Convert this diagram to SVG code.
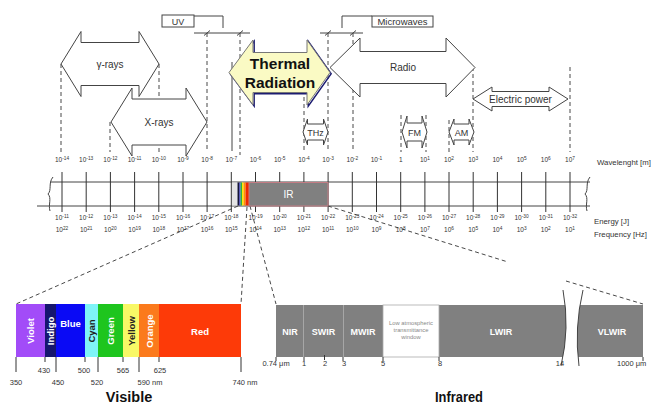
<svg xmlns="http://www.w3.org/2000/svg" width="654" height="405" viewBox="0 0 654 405">
<style>
text{font-family:"Liberation Sans",Arial,sans-serif;fill:#333}
.arr{fill:#fff;stroke:#444;stroke-width:1}
.dash{stroke:#333;stroke-width:0.9;stroke-dasharray:4 3;fill:none}
.ln{stroke:#444;stroke-width:1;fill:none}
.tk{stroke:#333;stroke-width:1}
.lab{font-size:6.5px;text-anchor:middle}
.s{font-size:4.8px}
.t10{font-size:10px;text-anchor:middle}
.box{fill:#fff;stroke:#444;stroke-width:1}
.vt{font-size:9.5px;font-weight:bold;text-anchor:middle;fill:#fff}
.dk{fill:#222}
.ir{font-size:9px;font-weight:bold;text-anchor:middle;fill:#fff}
.nm{font-size:7.5px;text-anchor:middle}
.seg{stroke:#b0b0b0;stroke-width:0.8}
</style>
<rect width="654" height="405" fill="#fff"/>

<g id="connectors">
  <path class="dash" d="M61,64V152 M110,122V152 M159,64V152 M207,33V152 M240,33V155 M304,97V152 M328,33V152 M353,33V152 M401,115V152 M426,115V152 M449,120V152 M473,67V152 M570,67V152"/>
  <path class="ln" d="M232,62V151"/>
  <path class="dash" d="M238,206L16,304 M247,207L241,304 M250,206L276,304 M328,206L508,262 M566,281L643,304"/>
</g>

<g id="uv">
  <rect class="box" x="162" y="15" width="32" height="12"/>
  <text class="t10" x="178" y="24.5" style="font-size:9px">UV</text>
  <path class="ln" d="M194,16H223V28 M194,33H250 M204,35.5L210,30.5 M237,35.5L243,30.5"/>
</g>

<g id="microwaves">
  <rect class="box" x="372" y="16" width="61" height="11"/>
  <text class="t10" x="402.5" y="24.8" style="font-size:9.5px">Microwaves</text>
  <path class="ln" d="M372,16H342V28 M320,33H363 M325,35.5L331,30.5 M350,35.5L356,30.5"/>
</g>

<g id="gamma-rays">
  <path class="arr" d="M61,64L81,31.5V42.5H139V31.5L159,64L139,96.5V85.5H81V96.5Z"/>
  <text class="t10" x="110" y="67.5">γ-rays</text>
</g>
<g id="x-rays">
  <path class="arr" d="M111,122L132,88V99H186V88L207,122L186,156V145H132V156Z"/>
  <text class="t10" x="159" y="125.5">X-rays</text>
</g>
<g id="thermal">
  <path d="M229,72.5L253,40V52.5H307V40L330,72.5L307,105V92.5H253V105Z" fill="none" stroke="#1c1c70" stroke-width="1.4" transform="translate(1.2,1.2)"/>
  <path d="M229,72.5L253,40V52.5H307V40L330,72.5L307,105V92.5H253V105Z" fill="#fafac4" stroke="#777" stroke-width="1"/>
  <text x="280" y="69" text-anchor="middle" style="font-size:15.5px;font-weight:bold;fill:#111">Thermal</text>
  <text x="280" y="88" text-anchor="middle" style="font-size:15.5px;font-weight:bold;fill:#111">Radiation</text>
</g>
<g id="radio">
  <path class="arr" d="M330,67.5L360,38V51.5H446V38L475,67.5L446,97V83.5H360V97Z"/>
  <text class="t10" x="403" y="71">Radio</text>
</g>
<g id="electric-power">
  <path class="arr" d="M473,99L492,87V91.5H549V87L568,99L549,111V106.5H492V111Z"/>
  <text class="t10" x="520.5" y="102.5">Electric power</text>
</g>
<g id="thz">
  <path class="arr" d="M303,132L307.5,119V124H323.5V119L328,132L323.5,145V140H307.5V145Z"/>
  <text class="t10" x="315.5" y="135.5" style="font-size:9px">THz</text>
</g>
<g id="fm">
  <path class="arr" d="M402,132L407,116V123H422V116L427,132L422,148V141H407V148Z"/>
  <text class="t10" x="414.5" y="135.5" style="font-size:9px">FM</text>
</g>
<g id="am">
  <path class="arr" d="M449,132L454,119V124H469V119L474,132L469,145V140H454V145Z"/>
  <text class="t10" x="461.5" y="135.5" style="font-size:9px">AM</text>
</g>

<g id="spectrum-bar">
  <path class="ln" d="M50,182H590 M37,206H590"/>
  <path class="ln" d="M53,177C48,183 52,190 48,194C52,198 48,205 50,211"/>
  <path class="ln" d="M590,177C585,183 589,190 585,194C589,198 585,205 587,211"/>
  <path class="tk" d="M62,172V212 M86.2,172V212 M110.4,172V212 M134.6,172V212 M158.8,172V212 M183,172V212 M207.1,172V212 M231.3,172V212 M255.5,172V212 M279.7,172V212 M303.9,172V212 M328.1,172V212 M352.3,172V212 M376.5,172V212 M400.7,172V212 M424.9,172V212 M449,172V212 M473.2,172V212 M497.4,172V212 M521.6,172V212 M545.8,172V212 M570,172V212"/>
  <rect x="232" y="182.5" width="5.5" height="23" fill="#e4e4e4"/>
  <rect x="237.5" y="182.5" width="2" height="23" fill="#141438"/>
  <rect x="239.5" y="182.5" width="1" height="23" fill="#2a2ad0"/>
  <rect x="240.5" y="182.5" width="1.5" height="23" fill="#2fae3a"/>
  <rect x="242" y="182.5" width="1.5" height="23" fill="#ffe600"/>
  <rect x="243.5" y="182.5" width="2" height="23" fill="#ff9400"/>
  <rect x="245.5" y="182.5" width="3.5" height="23" fill="#ee2a00"/>
  <rect x="249" y="182.5" width="79" height="23.5" fill="#808080" stroke="#c47c84" stroke-width="1"/>
  <text x="288.5" y="197.5" text-anchor="middle" style="font-size:10px;fill:#fff">IR</text>
</g>

<g id="wavelength-labels">
  <text class="lab" x="62" y="162">10<tspan class="s" dy="-2.5">-14</tspan></text>
  <text class="lab" x="86.2" y="162">10<tspan class="s" dy="-2.5">-13</tspan></text>
  <text class="lab" x="110.4" y="162">10<tspan class="s" dy="-2.5">-12</tspan></text>
  <text class="lab" x="134.6" y="162">10<tspan class="s" dy="-2.5">-11</tspan></text>
  <text class="lab" x="158.8" y="162">10<tspan class="s" dy="-2.5">-10</tspan></text>
  <text class="lab" x="183" y="162">10<tspan class="s" dy="-2.5">-9</tspan></text>
  <text class="lab" x="207.1" y="162">10<tspan class="s" dy="-2.5">-8</tspan></text>
  <text class="lab" x="231.3" y="162">10<tspan class="s" dy="-2.5">-7</tspan></text>
  <text class="lab" x="255.5" y="162">10<tspan class="s" dy="-2.5">-6</tspan></text>
  <text class="lab" x="279.7" y="162">10<tspan class="s" dy="-2.5">-5</tspan></text>
  <text class="lab" x="303.9" y="162">10<tspan class="s" dy="-2.5">-4</tspan></text>
  <text class="lab" x="328.1" y="162">10<tspan class="s" dy="-2.5">-3</tspan></text>
  <text class="lab" x="352.3" y="162">10<tspan class="s" dy="-2.5">-2</tspan></text>
  <text class="lab" x="376.5" y="162">10<tspan class="s" dy="-2.5">-1</tspan></text>
  <text class="lab" x="400.7" y="162">1</text>
  <text class="lab" x="424.9" y="162">10<tspan class="s" dy="-2.5">1</tspan></text>
  <text class="lab" x="449" y="162">10<tspan class="s" dy="-2.5">2</tspan></text>
  <text class="lab" x="473.2" y="162">10<tspan class="s" dy="-2.5">3</tspan></text>
  <text class="lab" x="497.4" y="162">10<tspan class="s" dy="-2.5">4</tspan></text>
  <text class="lab" x="521.6" y="162">10<tspan class="s" dy="-2.5">5</tspan></text>
  <text class="lab" x="545.8" y="162">10<tspan class="s" dy="-2.5">6</tspan></text>
  <text class="lab" x="570" y="162">10<tspan class="s" dy="-2.5">7</tspan></text>
  <text x="597" y="165" style="font-size:7.8px">Wavelenght [m]</text>
</g>

<g id="energy-labels">
  <text class="lab" x="62" y="220">10<tspan class="s" dy="-2.5">-11</tspan></text>
  <text class="lab" x="86.2" y="220">10<tspan class="s" dy="-2.5">-12</tspan></text>
  <text class="lab" x="110.4" y="220">10<tspan class="s" dy="-2.5">-13</tspan></text>
  <text class="lab" x="134.6" y="220">10<tspan class="s" dy="-2.5">-14</tspan></text>
  <text class="lab" x="158.8" y="220">10<tspan class="s" dy="-2.5">-15</tspan></text>
  <text class="lab" x="183" y="220">10<tspan class="s" dy="-2.5">-16</tspan></text>
  <text class="lab" x="207.1" y="220">10<tspan class="s" dy="-2.5">-17</tspan></text>
  <text class="lab" x="231.3" y="220">10<tspan class="s" dy="-2.5">-18</tspan></text>
  <text class="lab" x="255.5" y="220">10<tspan class="s" dy="-2.5">-19</tspan></text>
  <text class="lab" x="279.7" y="220">10<tspan class="s" dy="-2.5">-20</tspan></text>
  <text class="lab" x="303.9" y="220">10<tspan class="s" dy="-2.5">-21</tspan></text>
  <text class="lab" x="328.1" y="220">10<tspan class="s" dy="-2.5">-22</tspan></text>
  <text class="lab" x="352.3" y="220">10<tspan class="s" dy="-2.5">-23</tspan></text>
  <text class="lab" x="376.5" y="220">10<tspan class="s" dy="-2.5">-24</tspan></text>
  <text class="lab" x="400.7" y="220">10<tspan class="s" dy="-2.5">-25</tspan></text>
  <text class="lab" x="424.9" y="220">10<tspan class="s" dy="-2.5">-26</tspan></text>
  <text class="lab" x="449" y="220">10<tspan class="s" dy="-2.5">-27</tspan></text>
  <text class="lab" x="473.2" y="220">10<tspan class="s" dy="-2.5">-28</tspan></text>
  <text class="lab" x="497.4" y="220">10<tspan class="s" dy="-2.5">-29</tspan></text>
  <text class="lab" x="521.6" y="220">10<tspan class="s" dy="-2.5">-30</tspan></text>
  <text class="lab" x="545.8" y="220">10<tspan class="s" dy="-2.5">-31</tspan></text>
  <text class="lab" x="570" y="220">10<tspan class="s" dy="-2.5">-32</tspan></text>
  <text x="594" y="224" style="font-size:7.8px">Energy [J]</text>
</g>

<g id="frequency-labels">
  <text class="lab" x="62" y="232">10<tspan class="s" dy="-2.5">22</tspan></text>
  <text class="lab" x="86.2" y="232">10<tspan class="s" dy="-2.5">21</tspan></text>
  <text class="lab" x="110.4" y="232">10<tspan class="s" dy="-2.5">20</tspan></text>
  <text class="lab" x="134.6" y="232">10<tspan class="s" dy="-2.5">19</tspan></text>
  <text class="lab" x="158.8" y="232">10<tspan class="s" dy="-2.5">18</tspan></text>
  <text class="lab" x="183" y="232">10<tspan class="s" dy="-2.5">17</tspan></text>
  <text class="lab" x="207.1" y="232">10<tspan class="s" dy="-2.5">16</tspan></text>
  <text class="lab" x="231.3" y="232">10<tspan class="s" dy="-2.5">15</tspan></text>
  <text class="lab" x="255.5" y="232">10<tspan class="s" dy="-2.5">14</tspan></text>
  <text class="lab" x="279.7" y="232">10<tspan class="s" dy="-2.5">13</tspan></text>
  <text class="lab" x="303.9" y="232">10<tspan class="s" dy="-2.5">12</tspan></text>
  <text class="lab" x="328.1" y="232">10<tspan class="s" dy="-2.5">11</tspan></text>
  <text class="lab" x="352.3" y="232">10<tspan class="s" dy="-2.5">10</tspan></text>
  <text class="lab" x="376.5" y="232">10<tspan class="s" dy="-2.5">9</tspan></text>
  <text class="lab" x="400.7" y="232">10<tspan class="s" dy="-2.5">8</tspan></text>
  <text class="lab" x="424.9" y="232">10<tspan class="s" dy="-2.5">7</tspan></text>
  <text class="lab" x="449" y="232">10<tspan class="s" dy="-2.5">6</tspan></text>
  <text class="lab" x="473.2" y="232">10<tspan class="s" dy="-2.5">5</tspan></text>
  <text class="lab" x="497.4" y="232">10<tspan class="s" dy="-2.5">4</tspan></text>
  <text class="lab" x="521.6" y="232">10<tspan class="s" dy="-2.5">3</tspan></text>
  <text class="lab" x="545.8" y="232">10<tspan class="s" dy="-2.5">2</tspan></text>
  <text class="lab" x="570" y="232">10<tspan class="s" dy="-2.5">1</tspan></text>
  <text x="594" y="237" style="font-size:7.8px">Frequency [Hz]</text>
</g>

<g id="visible">
  <rect x="16" y="304" width="29" height="53" fill="#a24cf8"/>
  <rect x="45" y="304" width="11" height="53" fill="#16166e"/>
  <rect x="56" y="304" width="29" height="53" fill="#0a0af5"/>
  <rect x="85" y="304" width="13" height="53" fill="#7ff4f8"/>
  <rect x="98" y="304" width="25" height="53" fill="#1ec51e"/>
  <rect x="123" y="304" width="16" height="53" fill="#f8f866"/>
  <rect x="139" y="304" width="20" height="53" fill="#fb7a1c"/>
  <rect x="159" y="304" width="82" height="53" fill="#fd3a08"/>
  <text class="vt" transform="translate(30.5,331) rotate(-90)" y="3.5">Violet</text>
  <text class="vt" transform="translate(50.5,331) rotate(-90)" y="3.5">Indigo</text>
  <text class="vt" x="70.5" y="327">Blue</text>
  <text class="vt dk" transform="translate(91.5,331) rotate(-90)" y="3.5">Cyan</text>
  <text class="vt" transform="translate(110.5,331) rotate(-90)" y="3.5">Green</text>
  <text class="vt dk" transform="translate(131,331) rotate(-90)" y="3.5">Yellow</text>
  <text class="vt" transform="translate(149,331) rotate(-90)" y="3.5">Orange</text>
  <text class="vt" x="200" y="334.5">Red</text>
  <path class="tk" d="M16,357V372 M45,357V362 M56,357V372 M85,357V362 M98,357V372 M123,357V362 M139,357V372 M159,357V362 M241,357V372"/>
  <text class="nm" x="44" y="373">430</text>
  <text class="nm" x="84" y="373">500</text>
  <text class="nm" x="123" y="373">565</text>
  <text class="nm" x="160" y="373">625</text>
  <text class="nm" x="16" y="384.5">350</text>
  <text class="nm" x="58" y="384.5">450</text>
  <text class="nm" x="97" y="384.5">520</text>
  <text class="nm" x="150" y="384.5">590 nm</text>
  <text class="nm" x="245" y="384.5">740 nm</text>
  <text x="129" y="402" text-anchor="middle" style="font-size:14.5px;font-weight:bold;fill:#111">Visible</text>
</g>

<g id="infrared">
  <rect x="276" y="305" width="367" height="52" fill="#808080"/>
  <path class="seg" d="M303.5,305V357 M343.5,305V357"/>
  <rect x="383" y="305" width="56" height="52" fill="#fff" stroke="#aaa" stroke-width="0.8"/>
  <path d="M563,290Q570,328 561,366L579,366Q574,328 583,290Z" fill="#fff"/>
  <path class="ln" d="M563,290Q570,328 561,366 M583,290Q574,328 579,366"/>
  <text class="ir" x="290" y="334.5">NIR</text>
  <text class="ir" x="323.5" y="334.5">SWIR</text>
  <text class="ir" x="363" y="334.5">MWIR</text>
  <text class="ir" x="501" y="334.5">LWIR</text>
  <text class="ir" x="612" y="334.5">VLWIR</text>
  <text x="411" y="325" text-anchor="middle" style="font-size:5.8px;fill:#888">Low atmospheric</text>
  <text x="411" y="332" text-anchor="middle" style="font-size:5.8px;fill:#888">transmittance</text>
  <text x="411" y="339" text-anchor="middle" style="font-size:5.8px;fill:#888">window</text>
  <path class="tk" d="M276,357V361 M304,357V361 M324.5,355V360 M343,357V361 M383,357V361 M439,357V361 M643,357V361"/>
  <text class="nm" x="276" y="366">0.74 μm</text>
  <text class="nm" x="304" y="366">1</text>
  <text class="nm" x="325" y="366">2</text>
  <text class="nm" x="344" y="366">3</text>
  <text class="nm" x="383" y="366">5</text>
  <text class="nm" x="440" y="366">8</text>
  <text class="nm" x="560" y="366">14</text>
  <text x="617" y="366" style="font-size:7.5px">1000 μm</text>
  <text x="459" y="402" text-anchor="middle" textLength="48" lengthAdjust="spacingAndGlyphs" style="font-size:14.5px;font-weight:bold;fill:#111">Infrared</text>
</g>
</svg>
